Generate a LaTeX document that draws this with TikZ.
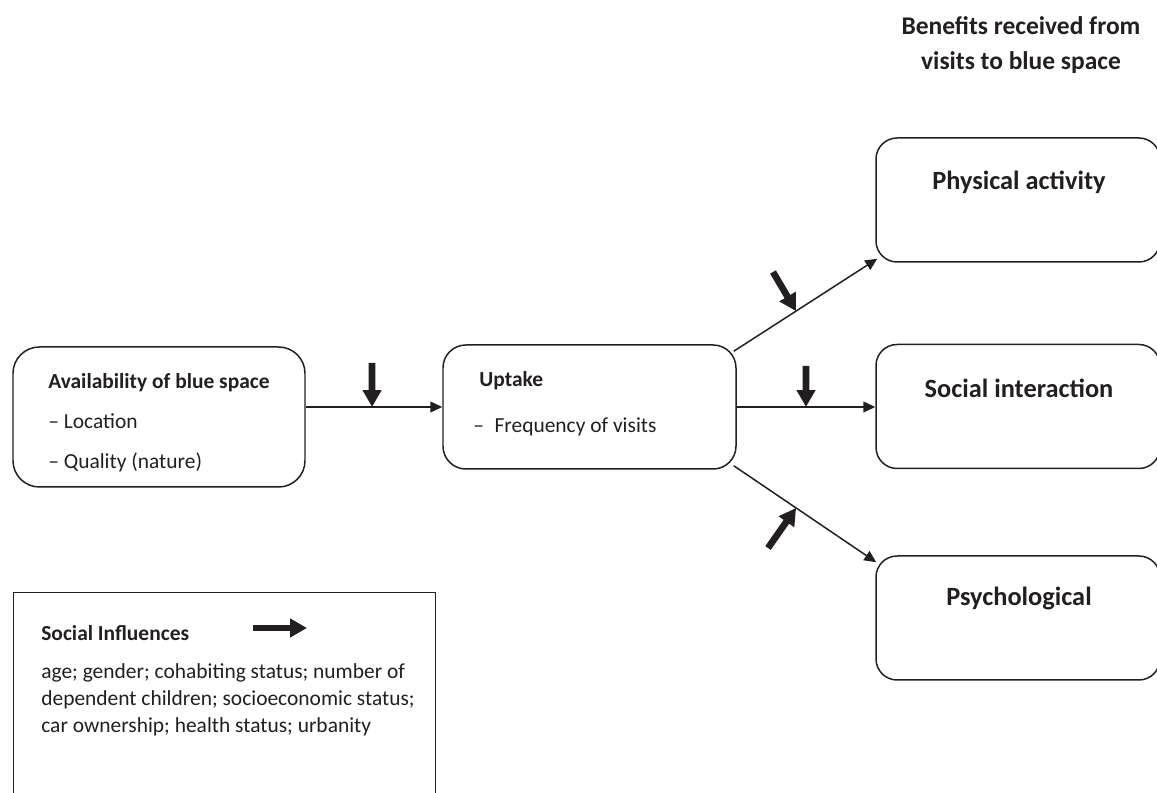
\documentclass[tikz,border=0pt]{standalone}
\usepackage{fontspec}
\setmainfont{Carlito}
\usetikzlibrary{arrows.meta}
\definecolor{ink}{RGB}{35,31,32}

\begin{document}
\begin{tikzpicture}[
  every node/.style={text=ink},
  box/.style={draw=ink, line width=0.85pt, rounded corners=#1, inner sep=0pt},
  conn/.style={draw=ink, line width=0.85pt, -{Triangle[length=6.8pt, width=6.2pt]}},
  influence/.style={draw=ink, line width=3.8pt, -{Triangle[length=9.6pt, width=10.2pt]}},
  small/.style={font=\fontsize{12.2pt}{#1}\selectfont, align=left, anchor=west, inner sep=0pt},
  big/.style={font=\fontsize{15pt}{18pt}\selectfont\bfseries}
]
\useasboundingbox (0,0) rectangle (23.14,-15.86);
\clip (0,0) rectangle (23.14,-15.86);

% ---- title ----
\node[font=\fontsize{14.5pt}{20.4pt}\selectfont\bfseries, align=center] (title) at (20.42,-0.9)
  {Benefits received from\\visits to blue space};

% ---- main boxes ----
\node[box=15pt, minimum width=5.84cm, minimum height=2.8cm] (avail) at (3.18,-8.34) {};
\node[small=22.7pt] (availT) at (0.96,-8.46)
  {\textbf{Availability of blue space}\\-- Location\\-- Quality (nature)};

\node[box=13pt, minimum width=5.86cm, minimum height=2.48cm] (uptake) at (11.79,-8.14) {};
\node[small=26.1pt] (uptakeT) at (9.46,-8.08)
  {\hspace*{3.4pt}\textbf{Uptake}\\--\hspace{6pt}Frequency of visits};

% ---- benefits ----
\node[box=12pt, minimum width=5.68cm, minimum height=2.48cm] (phys) at (20.36,-4.0) {};
\node[big] (physT) at (20.38,-3.64) {Physical activity};
\node[box=12pt, minimum width=5.68cm, minimum height=2.48cm] (social) at (20.36,-8.13) {};
\node[big] (socialT) at (20.38,-7.76) {Social interaction};
\node[box=12pt, minimum width=5.68cm, minimum height=2.48cm] (psych) at (20.36,-12.36) {};
\node[big] (psychT) at (20.38,-11.96) {Psychological};

% ---- connectors ----
\draw[conn] (uptake.west -| avail.east) -- coordinate[pos=0.486] (m1) (uptake.west);
\draw[conn] (uptake.east) -- coordinate[pos=0.5] (m2) (uptake.east -| social.west);
\draw[conn] ([shift={(-0.06,-0.14)}]uptake.north east) -- coordinate[pos=0.434] (m3)
  ([shift={(0.04,0.08)}]phys.south west);
\draw[conn] ([shift={(-0.06,0.08)}]uptake.south east) -- coordinate[pos=0.4375] (m4)
  ([shift={(0.02,-0.14)}]psych.north west);

% ---- social influence arrows ----
\coordinate (s1) at (7.44,-7.26);
\coordinate (s2) at (16.12,-7.32);
\coordinate (s3) at (15.46,-5.44);
\coordinate (s4) at (15.36,-10.96);
\draw[influence] (s1) -- (m1);
\draw[influence] (s2) -- (m2);
\draw[influence] (s3) -- (m3);
\draw[influence] (s4) -- (m4);

% ---- legend ----
\node[draw=ink, line width=0.85pt, minimum width=8.44cm, minimum height=4.8cm,
  anchor=north west, inner sep=0pt] (legend) at (0.26,-11.84) {};
\node[small=15.3pt] (legendT) at (0.82,-12.66) {\textbf{Social Influences}};
\node[small=15.3pt] (legendB) at (0.82,-14.0)
  {age; gender; cohabiting status; number of\\dependent children; socioeconomic status;\\car ownership; health status; urbanity};
\coordinate (keyA) at (5.06,-12.56);
\coordinate (keyB) at (6.14,-12.56);
\draw[influence] (keyA) -- (keyB);

\end{tikzpicture}
\end{document}
